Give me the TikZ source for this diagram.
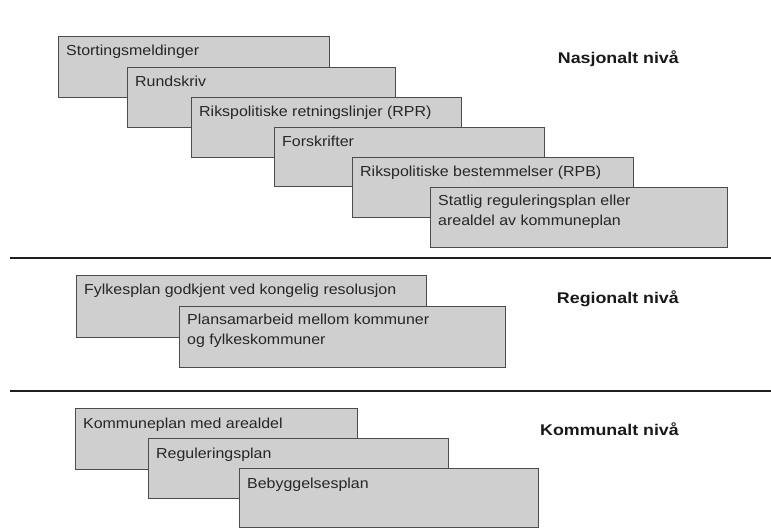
\documentclass[tikz,border=0pt]{standalone}
\usepackage{fontspec}
\setmainfont[FakeStretch=1.1]{Liberation Sans}
\newfontfamily\lvlfont[FakeStretch=1.15]{Liberation Sans}
\begin{document}
\begin{tikzpicture}[x=1pt,y=-1pt,
  box/.style={draw=black!70,line width=1.1pt,fill=black!19,rectangle,inner sep=0pt,anchor=north west},
  boxtext/.style={anchor=base west,inner sep=0pt,text=black!85,align=left,font=\fontsize{14.5}{20}\selectfont},
  level/.style={anchor=base east,inner sep=0pt,text=black!90,font=\lvlfont\fontsize{15.5}{19}\selectfont\bfseries},
  sep/.style={line width=2.6pt,draw=black!88}]
\useasboundingbox[fill=white] (0,0) rectangle (771,529);
% Nasjonalt
\node[box,minimum width=271pt,minimum height=61pt] (b1) at (58,36) {};
\node[boxtext] (t1) at ([xshift=8pt,yshift=-20pt]b1.north west) {Stortingsmeldinger};
\node[box,minimum width=268pt,minimum height=60pt] (b2) at (127,67) {};
\node[boxtext] (t2) at ([xshift=8pt,yshift=-20pt]b2.north west) {Rundskriv};
\node[box,minimum width=270pt,minimum height=60pt] (b3) at (191,97) {};
\node[boxtext] (t3) at ([xshift=8pt,yshift=-20pt]b3.north west) {Rikspolitiske retningslinjer (RPR)};
\node[box,minimum width=270pt,minimum height=59pt] (b4) at (274,127) {};
\node[boxtext] (t4) at ([xshift=8pt,yshift=-20pt]b4.north west) {Forskrifter};
\node[box,minimum width=281pt,minimum height=60pt] (b5) at (352,157) {};
\node[boxtext] (t5) at ([xshift=8pt,yshift=-20pt]b5.north west) {Rikspolitiske bestemmelser (RPB)};
\node[box,minimum width=297pt,minimum height=60pt] (b6) at (430,187) {};
\node[boxtext,anchor=north west] (t6) at ([xshift=8pt,yshift=-8pt]b6.north west) {Statlig reguleringsplan eller\\arealdel av kommuneplan};
\node[level] (n1) at (679,64) {Nasjonalt nivå};
% separator
\coordinate (s1a) at (10,258);
\coordinate (s1b) at (771,258);
\draw[sep] (s1a) -- (s1b);
% Regionalt
\node[box,minimum width=350pt,minimum height=62pt] (b7) at (76,275) {};
\node[boxtext] (t7) at ([xshift=8pt,yshift=-20pt]b7.north west) {Fylkesplan godkjent ved kongelig resolusjon};
\node[box,minimum width=326pt,minimum height=61pt] (b8) at (179,306) {};
\node[boxtext,anchor=north west] (t8) at ([xshift=8pt,yshift=-8pt]b8.north west) {Plansamarbeid mellom kommuner\\og fylkeskommuner};
\node[level] (n2) at (679,304) {Regionalt nivå};
\coordinate (s2a) at (10,391);
\coordinate (s2b) at (771,391);
\draw[sep] (s2a) -- (s2b);
% Kommunalt
\node[box,minimum width=282pt,minimum height=61pt] (b9) at (75,408) {};
\node[boxtext] (t9) at ([xshift=8pt,yshift=-20pt]b9.north west) {Kommuneplan med arealdel};
\node[box,minimum width=300pt,minimum height=60pt] (b10) at (148,438) {};
\node[boxtext] (t10) at ([xshift=8pt,yshift=-20pt]b10.north west) {Reguleringsplan};
\node[box,minimum width=299pt,minimum height=59pt] (b11) at (239,468) {};
\node[boxtext] (t11) at ([xshift=8pt,yshift=-20pt]b11.north west) {Bebyggelsesplan};
\node[level] (n3) at (679,435) {Kommunalt nivå};
\end{tikzpicture}
\end{document}
